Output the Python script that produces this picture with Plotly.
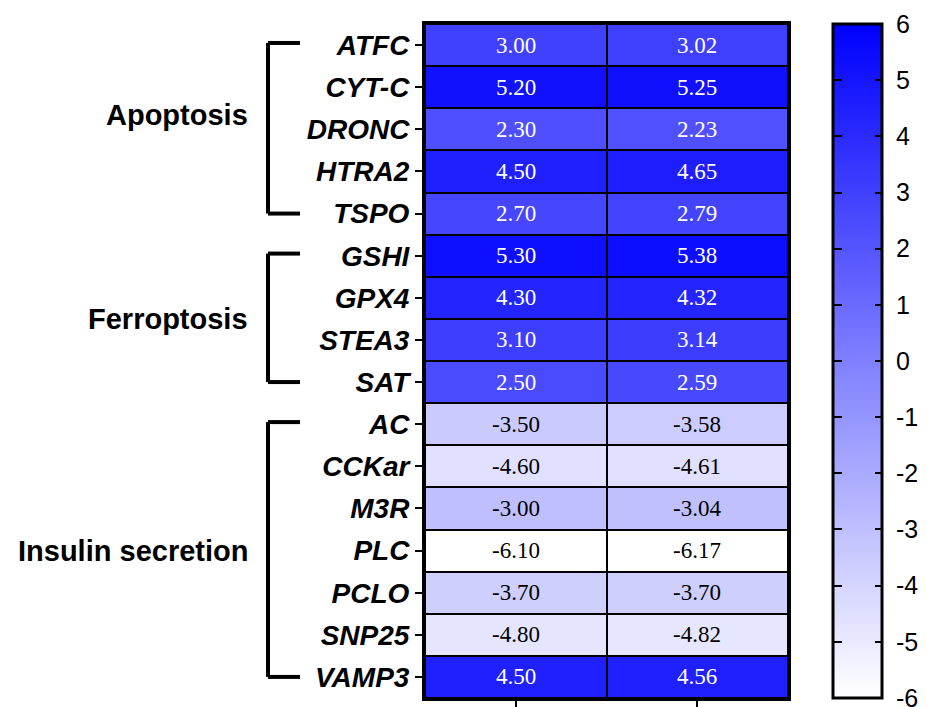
import plotly.graph_objects as go

# Genes (top to bottom) and their two value columns
genes = ["ATFC", "CYT-C", "DRONC", "HTRA2", "TSPO",
         "GSHI", "GPX4", "STEA3", "SAT",
         "AC", "CCKar", "M3R", "PLC", "PCLO", "SNP25", "VAMP3"]
col_a = [3.00, 5.20, 2.30, 4.50, 2.70,
         5.30, 4.30, 3.10, 2.50,
         -3.50, -4.60, -3.00, -6.10, -3.70, -4.80, 4.50]
col_b = [3.02, 5.25, 2.23, 4.65, 2.79,
         5.38, 4.32, 3.14, 2.59,
         -3.58, -4.61, -3.04, -6.17, -3.70, -4.82, 4.56]

# Pathway groups: (label, first gene, last gene)
groups = [("Apoptosis", "ATFC", "TSPO"),
          ("Ferroptosis", "GSHI", "SAT"),
          ("Insulin secretion", "AC", "VAMP3")]

cbar_ticks = list(range(-6, 7))
cbar_labels = ["\u00a0" + str(t) for t in cbar_ticks]

W, H = 927, 707
L, R, T, B = 425, 139, 24, 9
plot_w = W - L - R
plot_h = H - T - B

# White at -6, full blue at +6 (tiny slack so both end ticks are kept)
zmin, zmax = -6.001, 6.001

# Colour bar horizontal placement (pixels)
cb_left, cb_thick = 833, 49

rows = list(range(len(genes)))
z = [[a, b] for a, b in zip(col_a, col_b)]

fig = go.Figure()
fig.add_trace(go.Heatmap(
    z=z, x=[0, 1], y=rows,
    zmin=zmin, zmax=zmax,
    colorscale=[[0, "rgb(255,255,255)"], [1, "rgb(0,0,255)"]],
    xgap=2, ygap=2,
    hoverinfo="skip",
    colorbar=dict(
        x=(cb_left - L) / plot_w, xref="paper", xanchor="left", xpad=0,
        y=0.5, yref="paper", yanchor="middle", ypad=0,
        lenmode="fraction", len=1,
        thickness=cb_thick,
        outlinewidth=3, outlinecolor="black",
        tickvals=cbar_ticks, ticktext=cbar_labels,
        ticks="inside", ticklen=8, tickwidth=2, tickcolor="black",
        ticklabeloverflow="allow",
        tickfont=dict(family="Liberation Sans, Arial", size=25, color="black"),
    ),
))

# Tick marks on the left inner edge of the colour bar (small filled boxes)
for t in cbar_ticks[1:-1]:
    fig.add_annotation(
        x=(cb_left + 1 - L) / plot_w, y=(t - zmin) / (zmax - zmin),
        xref="paper", yref="paper", text=" ", showarrow=False,
        xanchor="left", yanchor="middle",
        width=8, height=2, bgcolor="black", borderpad=0, borderwidth=0,
        font=dict(size=1),
    )

# Value labels in each cell
for i, g in enumerate(genes):
    for j, v in enumerate((col_a[i], col_b[i])):
        fig.add_annotation(
            x=j, y=i, xref="x", yref="y", text=f"{v:.2f}", showarrow=False,
            font=dict(family="Liberation Serif, Times New Roman", size=23,
                      color="white" if v > 0 else "black"),
        )

# Group brackets and labels on the left
bx = (268 - L) / plot_w
arm = (300 - L) / plot_w
label_x = (250 - L) / plot_w
label_shift = {"Apoptosis": 14}
for name, first, last in groups:
    y0 = genes.index(first)
    y1 = genes.index(last)
    lw = dict(color="black", width=4)
    fig.add_shape(type="line", xref="paper", yref="y", x0=bx, x1=bx,
                  y0=y0 - 0.05, y1=y1, line=lw)
    fig.add_shape(type="line", xref="paper", yref="y", x0=bx, x1=arm,
                  y0=y0 - 0.05, y1=y0 - 0.05, line=lw)
    fig.add_shape(type="line", xref="paper", yref="y", x0=bx, x1=arm,
                  y0=y1, y1=y1, line=lw)
    fig.add_annotation(
        x=label_x, y=(y0 + y1) / 2, xref="paper", yref="y", text=name,
        showarrow=False, xanchor="right", yanchor="middle",
        yshift=label_shift.get(name, 0),
        font=dict(family="Liberation Sans, Arial", size=29, color="black",
                  weight="bold"),
    )

fig.update_layout(
    width=W, height=H,
    margin=dict(l=L, r=R, t=T, b=B, autoexpand=False),
    paper_bgcolor="white", plot_bgcolor="black",
    showlegend=False,
    xaxis=dict(
        range=[-0.5, 1.5], tickvals=[0, 1], showticklabels=False,
        ticks="outside", ticklen=16, tickwidth=2, tickcolor="black",
        showline=True, linewidth=3, linecolor="black", mirror=True,
        showgrid=False, zeroline=False, fixedrange=True,
    ),
    yaxis=dict(
        range=[len(genes) - 0.5, -0.5], tickvals=rows, ticktext=genes,
        ticks="outside", ticklen=7, tickwidth=2, tickcolor="black",
        tickfont=dict(family="Liberation Sans, Arial", size=28, color="black",
                      weight="bold", style="italic"),
        showline=True, linewidth=3, linecolor="black", mirror=True,
        showgrid=False, zeroline=False, fixedrange=True,
    ),
)

fig.write_html("out.html")
